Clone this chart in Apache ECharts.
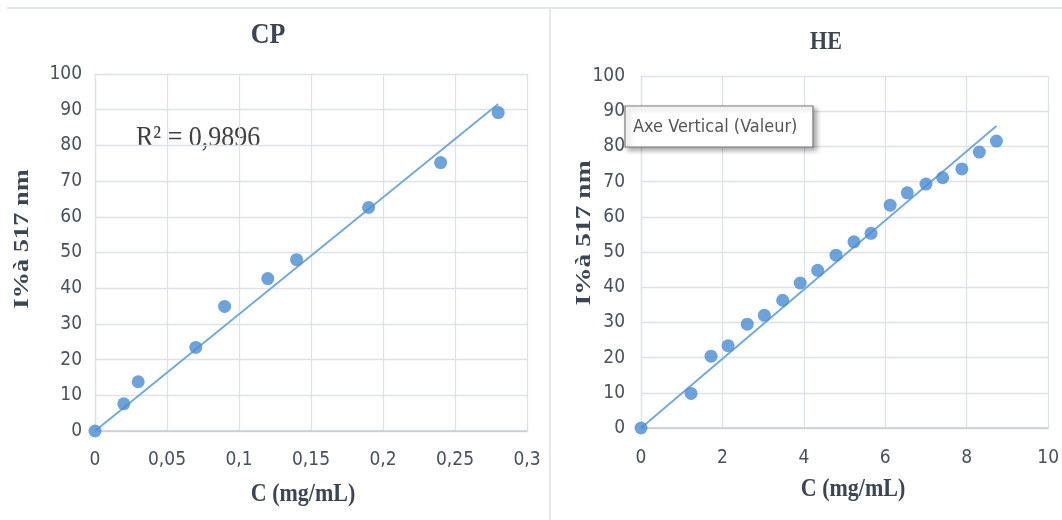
<!DOCTYPE html>
<html>
<head>
<meta charset="utf-8">
<script src="https://cdn.jsdelivr.net/npm/echarts@6/dist/echarts.min.js"></script>
<style>
html,body{margin:0;padding:0;background:#fff;}
#chart{width:1062px;height:520px;}
</style>
</head>
<body>
<div id="chart"></div>
<script>
// ---- data ----
var cpConc = [0, 0.02, 0.03, 0.07, 0.09, 0.12, 0.14, 0.19, 0.24, 0.28];
var cpInhib = [0, 7.6, 13.8, 23.4, 34.9, 42.7, 48.0, 62.6, 75.2, 89.2];
var heConc = [0, 1.23, 1.72, 2.14, 2.61, 3.03, 3.48, 3.91, 4.34, 4.79, 5.23, 5.65, 6.12, 6.54, 7.0, 7.41, 7.88, 8.31, 8.73];
var heInhib = [0, 9.8, 20.4, 23.4, 29.5, 32.0, 36.3, 41.2, 44.8, 49.1, 52.9, 55.3, 63.3, 66.8, 69.3, 71.1, 73.6, 78.4, 81.5];
var cpTicksX = [0, 0.3, 0.05];
var heTicksX = [0, 10, 2];
var yTicks = [0, 100, 10];
var cpTitle = 'CP';
var heTitle = 'HE';
var r2Text = 'R² = 0,9896';
var xName = 'C (mg/mL)';
var yName = 'I%à 517 nm';
var boxText = 'Axe Vertical (Valeur)';

// trendline through origin (least squares), spanning the data range
function trend(xs, ys) {
  var sxy = 0, sxx = 0, mx = 0;
  for (var i = 0; i < xs.length; i++) { sxy += xs[i] * ys[i]; sxx += xs[i] * xs[i]; mx = Math.max(mx, xs[i]); }
  var k = sxy / sxx;
  return [[0, 0], [mx, k * mx]];
}
function pairs(xs, ys) { return xs.map(function (x, i) { return [x, ys[i]]; }); }

var sansFont = "'DejaVu Sans Condensed', 'Liberation Sans Narrow', 'Roboto', sans-serif";
var serifFont = "'Liberation Serif', 'DejaVu Serif', serif";
var labelColor = '#48515d';
var gridColor = '#dde2e9';
var dotColor = '#4a8bd2';
var lineColor = '#6fa8dc';

function fmt(v) { return String(Number(v.toFixed(3))).replace('.', ','); }

function xAxis(idx, t, margin) {
  return {
    type: 'value', gridIndex: idx, min: t[0], max: t[1], interval: t[2],
    axisLine: { show: true, lineStyle: { color: '#c6ccd4', width: 1.5 } },
    axisTick: { show: false },
    splitLine: { show: true, lineStyle: { color: gridColor, width: 1.3 } },
    axisLabel: { color: labelColor, fontFamily: sansFont, fontSize: 19, margin: margin, formatter: fmt }
  };
}
function yAxis(idx, margin) {
  return {
    type: 'value', gridIndex: idx, min: yTicks[0], max: yTicks[1], interval: yTicks[2],
    axisLine: { show: true, lineStyle: { color: gridColor, width: 1.3 } },
    axisTick: { show: false },
    splitLine: { show: true, lineStyle: { color: gridColor, width: 1.3 } },
    axisLabel: { color: labelColor, fontFamily: sansFont, fontSize: 19, margin: margin, formatter: fmt }
  };
}

var chart = echarts.init(document.getElementById('chart'), null, { renderer: 'canvas' });
chart.setOption({
  backgroundColor: '#ffffff',
  animation: false,
  grid: [
    { left: 95, top: 74, width: 432, height: 357 },
    { left: 641, top: 76, width: 411, height: 352 }
  ],
  xAxis: [xAxis(0, cpTicksX, 20), xAxis(1, heTicksX, 21)],
  yAxis: [yAxis(0, 13), yAxis(1, 16)],
  series: [
    { type: 'line', xAxisIndex: 0, yAxisIndex: 0, data: trend(cpConc, cpInhib), showSymbol: false,
      lineStyle: { color: lineColor, width: 1.8 }, z: 2 },
    { type: 'scatter', xAxisIndex: 0, yAxisIndex: 0, data: pairs(cpConc, cpInhib), symbolSize: 13,
      itemStyle: { color: dotColor }, z: 3 },
    { type: 'line', xAxisIndex: 1, yAxisIndex: 1, data: trend(heConc, heInhib), showSymbol: false,
      lineStyle: { color: lineColor, width: 1.8 }, z: 2 },
    { type: 'scatter', xAxisIndex: 1, yAxisIndex: 1, data: pairs(heConc, heInhib), symbolSize: 13,
      itemStyle: { color: dotColor }, z: 3 }
  ],
  graphic: [
    { type: 'line', shape: { x1: 7, y1: 8, x2: 1062, y2: 8 }, style: { stroke: '#e3e6eb', lineWidth: 2 }, z: 0 },
    { type: 'line', shape: { x1: 550, y1: 8, x2: 550, y2: 520 }, style: { stroke: '#e3e6eb', lineWidth: 2 }, z: 0 },
    { type: 'text', x: 268, y: 36, scaleY: 1.1,
      style: { text: cpTitle, font: 'bold 26px ' + serifFont, fill: '#3b4554', textAlign: 'center', textVerticalAlign: 'middle' } },
    { type: 'text', x: 826, y: 43, scaleY: 1.1,
      style: { text: heTitle, font: 'bold 22px ' + serifFont, fill: '#3b4554', textAlign: 'center', textVerticalAlign: 'middle' } },
    { type: 'text', x: 136, y: 138, scaleY: 1.15,
      style: { text: r2Text, font: '26px ' + serifFont, fill: '#404040', textAlign: 'left', textVerticalAlign: 'middle' } },
    { type: 'text', x: 303, y: 495, scaleY: 1.1,
      style: { text: xName, font: 'bold 22px ' + serifFont, fill: '#3b4554', textAlign: 'center', textVerticalAlign: 'middle' } },
    { type: 'text', x: 853, y: 490, scaleY: 1.1,
      style: { text: xName, font: 'bold 22px ' + serifFont, fill: '#3b4554', textAlign: 'center', textVerticalAlign: 'middle' } },
    { type: 'text', x: 22, y: 239, rotation: Math.PI / 2, scaleX: 1.2,
      style: { text: yName, font: 'bold 22px ' + serifFont, fill: '#3b4554', textAlign: 'center', textVerticalAlign: 'middle' } },
    { type: 'text', x: 584, y: 233, rotation: Math.PI / 2, scaleX: 1.25,
      style: { text: yName, font: 'bold 22px ' + serifFont, fill: '#3b4554', textAlign: 'center', textVerticalAlign: 'middle' } },
    { type: 'rect', shape: { x: 625, y: 106, width: 188, height: 41 }, z: 10,
      style: { fill: '#ffffff', stroke: '#7a7a7a', lineWidth: 1.2, shadowBlur: 5, shadowOffsetX: 3, shadowOffsetY: 3, shadowColor: 'rgba(0,0,0,0.35)' } },
    { type: 'text', x: 633, y: 127, z: 11,
      style: { text: boxText, font: '18px ' + sansFont, fill: '#555555', textAlign: 'left', textVerticalAlign: 'middle' } }
  ]
});
</script>
</body>
</html>
